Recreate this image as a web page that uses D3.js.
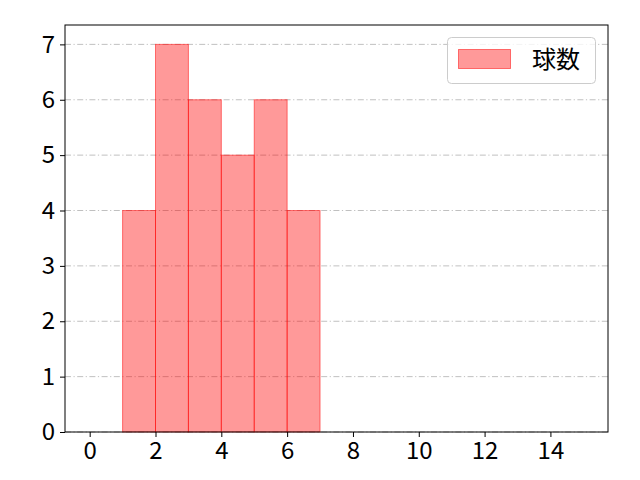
<!DOCTYPE html>
<html><head><meta charset="utf-8">
<script src="https://cdn.jsdelivr.net/npm/d3@7"></script>
<style>body{margin:0;background:#fff}</style>
</head><body>
<script>
const binStarts = [1, 2, 3, 4, 5, 6];
const counts = [4, 7, 6, 5, 6, 4];
const xTicks = [0, 2, 4, 6, 8, 10, 12, 14];
const yTicks = [0, 1, 2, 3, 4, 5, 6, 7];
const seriesName = "球数";

const W = 640, H = 480;
const m = {l: 65, r: 32, t: 25, b: 48};
const FONT = "'Noto Sans CJK JP', 'DejaVu Sans', sans-serif";
const svg = d3.select("body").append("svg").attr("width", W).attr("height", H)
  .style("font-family", FONT);
const x = d3.scaleLinear().domain([-0.75, 15.75]).range([m.l, W - m.r]);
const y = d3.scaleLinear().domain([0, 7.35]).range([H - m.b, m.t]);

// grid
svg.append("g").selectAll("line").data(yTicks).join("line")
  .attr("x1", m.l).attr("x2", W - m.r)
  .attr("y1", d => y(d)).attr("y2", d => y(d))
  .attr("stroke", "#b0b0b0").attr("stroke-width", 0.8)
  .attr("stroke-dasharray", "6,2.5,1.2,2.5");

// bars
svg.append("g").selectAll("rect").data(binStarts).join("rect")
  .attr("x", d => x(d)).attr("width", d => x(d + 1) - x(d))
  .attr("y", (d, i) => y(counts[i])).attr("height", (d, i) => y(0) - y(counts[i]))
  .attr("fill", "rgba(255,0,0,0.4)")
  .attr("stroke", "rgba(255,0,0,0.5)").attr("stroke-width", 1);

// axes
const xa = svg.append("g").attr("transform", `translate(0,${H - m.b})`)
  .call(d3.axisBottom(x).tickValues(xTicks).tickSize(5).tickPadding(5).tickFormat(d3.format("d")));
const ya = svg.append("g").attr("transform", `translate(${m.l},0)`)
  .call(d3.axisLeft(y).tickValues(yTicks).tickSize(5).tickPadding(5).tickFormat(d3.format("d")));
[xa, ya].forEach(a => {
  a.select(".domain").remove();
  a.selectAll("text").attr("font-size", 24).attr("fill", "#000").style("font-family", FONT);
  a.selectAll("line").attr("stroke", "#000").attr("stroke-width", 1);
});
svg.append("rect").attr("x", m.l).attr("y", m.t)
  .attr("width", W - m.r - m.l).attr("height", H - m.b - m.t)
  .attr("fill", "none").attr("stroke", "#000").attr("stroke-width", 1);

// legend
const lg = svg.append("g");
lg.append("rect").attr("x", 447.5).attr("y", 37.5).attr("width", 148).attr("height", 46).attr("rx", 4)
  .attr("fill", "rgba(255,255,255,0.8)").attr("stroke", "#cccccc").attr("stroke-width", 1);
lg.append("rect").attr("x", 458.5).attr("y", 49.5).attr("width", 52).attr("height", 19)
  .attr("fill", "rgba(255,0,0,0.4)").attr("stroke", "rgba(255,0,0,0.5)");
lg.append("text").attr("x", 532).attr("y", 68).attr("font-size", 24).text(seriesName);
</script>
</body></html>
